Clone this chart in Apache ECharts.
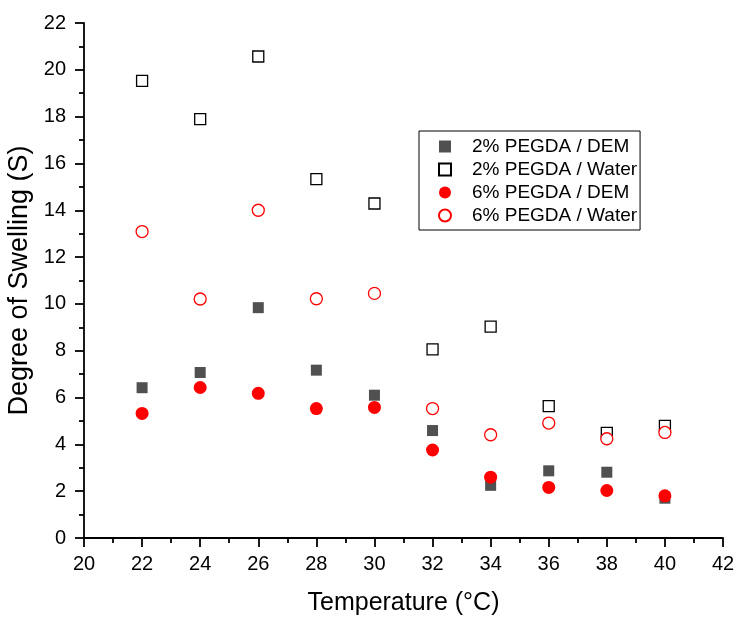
<!DOCTYPE html>
<html><head><meta charset="utf-8">
<script src="https://cdn.jsdelivr.net/npm/echarts@6/dist/echarts.min.js"></script>
<style>html,body{margin:0;padding:0;background:#fff}#c{width:737px;height:624px}</style>
</head><body><div id="c"></div>
<script>
const temps = [22, 24, 26, 28, 30, 32, 34, 36, 38, 40];
const pegda2Dem = [6.42, 7.07, 9.84, 7.17, 6.10, 4.59, 2.25, 2.87, 2.81, 1.70];
const pegda2Water = [19.53, 17.89, 20.57, 15.33, 14.29, 8.06, 9.03, 5.63, 4.49, 4.79];
const pegda6Dem = [5.32, 6.43, 6.18, 5.53, 5.58, 3.76, 2.60, 2.16, 2.03, 1.80];
const pegda6Water = [13.09, 10.21, 14.0, 10.22, 10.45, 5.53, 4.41, 4.91, 4.24, 4.51];
const seriesNames = ['2% PEGDA / DEM', '2% PEGDA / Water', '6% PEGDA / DEM', '6% PEGDA / Water'];

const pair = arr => temps.map((t, i) => [t, arr[i]]);
const font = 'Liberation Sans, Arial, sans-serif';
const axisCommon = {
  axisLine: {show: true, onZero: false, lineStyle: {color: '#000', width: 1.8}},
  axisTick: {show: true, inside: false, length: 9, lineStyle: {color: '#000', width: 1.8}},
  minorTick: {show: true, splitNumber: 2, length: 5, lineStyle: {color: '#000', width: 1.8}},
  splitLine: {show: false}
};

const chart = echarts.init(document.getElementById('c'));
chart.setOption({
  animation: false,
  backgroundColor: '#fff',
  grid: {left: 84, right: 14, top: 23, bottom: 86, containLabel: false, outerBoundsMode: 'none'},
  xAxis: Object.assign({
    type: 'value', min: 20, max: 42, interval: 2,
    name: 'Temperature (°C)', nameLocation: 'middle', nameGap: 53,
    nameTextStyle: {fontFamily: font, fontSize: 25, color: '#000'},
    axisLabel: {fontFamily: font, fontSize: 20, color: '#000', margin: 16}
  }, axisCommon),
  yAxis: Object.assign({
    type: 'value', min: 0, max: 22, interval: 2,
    name: 'Degree of Swelling (S)', nameLocation: 'middle', nameGap: 47,
    nameTextStyle: {fontFamily: font, fontSize: 27, color: '#000'},
    axisLabel: {fontFamily: font, fontSize: 20, color: '#000', margin: 18}
  }, axisCommon),
  legend: {
    orient: 'vertical', left: 419, top: 131,
    padding: [6, 3, 5, 19],
    borderColor: '#000', borderWidth: 1, borderRadius: 0,
    itemWidth: 12, itemHeight: 12, itemGap: 4,
    textStyle: {fontFamily: font, fontSize: 19, color: '#000', lineHeight: 19, padding: [0, 0, 0, 16]},
    data: [
      {name: seriesNames[0], icon: 'rect'},
      {name: seriesNames[1], icon: 'rect'},
      {name: seriesNames[2], icon: 'circle'},
      {name: seriesNames[3], icon: 'circle'}
    ]
  },
  series: [
    {name: seriesNames[1], type: 'scatter', data: pair(pegda2Water), symbol: 'rect', symbolSize: 11,
     itemStyle: {color: '#fff', borderColor: '#000', borderWidth: 1.3, opacity: 1}},
    {name: seriesNames[3], type: 'scatter', data: pair(pegda6Water), symbol: 'circle', symbolSize: 12,
     itemStyle: {color: '#fff', borderColor: '#ff0000', borderWidth: 1.3, opacity: 1}},
    {name: seriesNames[0], type: 'scatter', data: pair(pegda2Dem), symbol: 'rect', symbolSize: 11,
     itemStyle: {color: '#505050', borderWidth: 0, opacity: 1}},
    {name: seriesNames[2], type: 'scatter', data: pair(pegda6Dem), symbol: 'circle', symbolSize: 13,
     itemStyle: {color: '#ff0000', borderWidth: 0, opacity: 1}}
  ]
});
</script></body></html>
